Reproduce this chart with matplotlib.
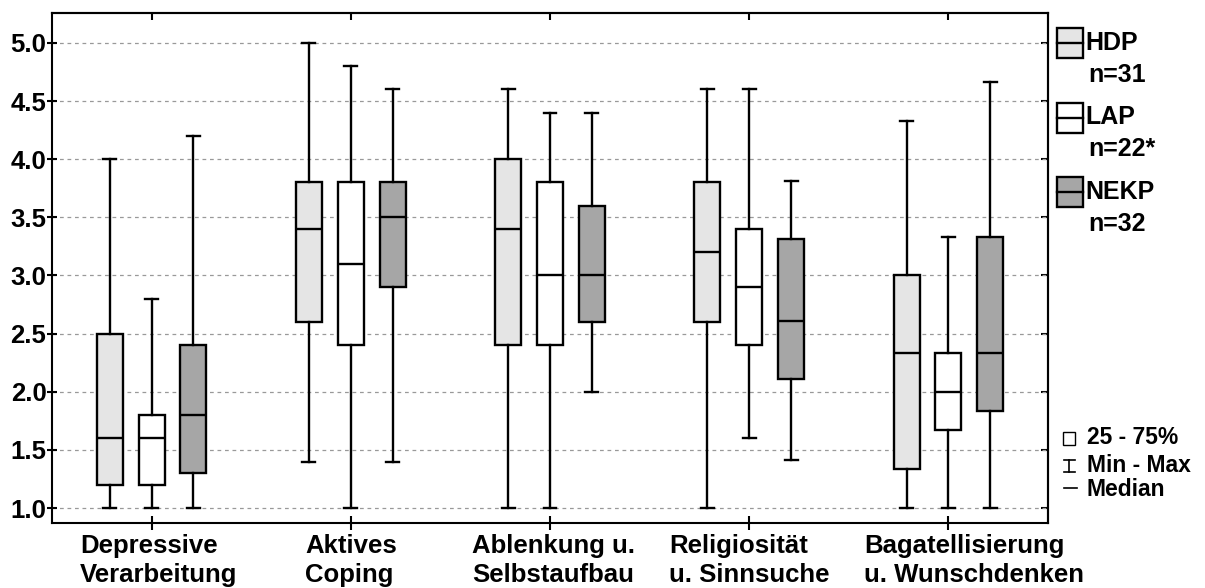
import numpy as np
import matplotlib.pyplot as plt
import matplotlib.transforms as mtransforms
from matplotlib.patches import Rectangle
from matplotlib.lines import Line2D

plt.rcParams['font.family'] = ['Liberation Sans', 'DejaVu Sans']
plt.rcParams['font.weight'] = 'bold'

categories = ["Depressive\nVerarbeitung", "Aktives\nCoping", "Ablenkung u.\nSelbstaufbau",
              "Religiosität\nu. Sinnsuche", "Bagatellisierung\nu. Wunschdenken"]
groups = ["HDP", "LAP", "NEKP"]
group_n = ["n=31", "n=22*", "n=32"]
colors = ["#e5e5e5", "#ffffff", "#a6a6a6"]

# min, q1, median, q3, max per category
hdp_min = [1.0, 1.4, 1.0, 1.0, 1.0]
hdp_q1 = [1.2, 2.6, 2.4, 2.6, 1.333]
hdp_med = [1.6, 3.4, 3.4, 3.2, 2.333]
hdp_q3 = [2.5, 3.8, 4.0, 3.8, 3.0]
hdp_max = [4.0, 5.0, 4.6, 4.6, 4.333]

lap_min = [1.0, 1.0, 1.0, 1.6, 1.0]
lap_q1 = [1.2, 2.4, 2.4, 2.4, 1.667]
lap_med = [1.6, 3.1, 3.0, 2.9, 2.0]
lap_q3 = [1.8, 3.8, 3.8, 3.4, 2.333]
lap_max = [2.8, 4.8, 4.4, 4.6, 3.333]

nekp_min = [1.0, 1.4, 2.0, 1.41, 1.0]
nekp_q1 = [1.3, 2.9, 2.6, 2.11, 1.833]
nekp_med = [1.8, 3.5, 3.0, 2.61, 2.333]
nekp_q3 = [2.4, 3.8, 3.6, 3.31, 3.333]
nekp_max = [4.2, 4.6, 4.4, 3.81, 4.667]

series = [
    (hdp_min, hdp_q1, hdp_med, hdp_q3, hdp_max),
    (lap_min, lap_q1, lap_med, lap_q3, lap_max),
    (nekp_min, nekp_q1, nekp_med, nekp_q3, nekp_max),
]

W, H = 1205, 588
fig = plt.figure(figsize=(W / 100, H / 100), dpi=100)
ax = fig.add_axes([52 / W, 1 - 523 / H, (1048 - 52) / W, (523 - 13) / H])

x = np.arange(1, len(categories) + 1)
offsets = [-0.21, 0.0, 0.21]
lw = 1.7

for k, (mn, q1, med, q3, mx) in enumerate(series):
    stats = [dict(whislo=mn[i], q1=q1[i], med=med[i], q3=q3[i], whishi=mx[i], fliers=[])
             for i in range(len(categories))]
    ax.bxp(stats, positions=x + offsets[k], widths=0.13, capwidths=0.065,
           patch_artist=True, showfliers=False, manage_ticks=False,
           boxprops=dict(facecolor=colors[k], edgecolor='black', linewidth=lw),
           medianprops=dict(color='black', linewidth=lw),
           whiskerprops=dict(color='black', linewidth=lw),
           capprops=dict(color='black', linewidth=lw), zorder=3)

ax.set_xlim(0.5, 5.5)
ax.set_ylim(0.871, 5.258)
yt = np.arange(1.0, 5.01, 0.5)
ax.set_yticks(yt)
ax.set_yticklabels([f"{v:.1f}" for v in yt])
ax.set_xticks(x)
ax.set_xticklabels(categories, multialignment='left', linespacing=1.28)
ax.grid(axis='y', color='#999999', linestyle=(0, (3, 3)), linewidth=0.9, zorder=0)
ax.set_axisbelow(True)

for s in ax.spines.values():
    s.set_linewidth(1.5)
ax.tick_params(axis='x', direction='inout', length=10, width=1.5, pad=3, labelsize=18.5)
ax.tick_params(axis='y', direction='inout', length=7, width=1.5, pad=0.5, labelsize=18.5)

sec_x = ax.secondary_xaxis('top')
sec_x.set_xticks(x)
sec_x.tick_params(direction='in', length=5, width=1.5, labeltop=False)
sec_y = ax.secondary_yaxis('right')
sec_y.set_yticks(yt)
sec_y.tick_params(direction='in', length=5, width=1.5, labelright=False)
for s in list(sec_x.spines.values()) + list(sec_y.spines.values()):
    s.set_linewidth(1.5)

# shift some labels to match the reference placement
label_shift = [7, 0, 4, 0, 26]
for lab, dx in zip(ax.get_xticklabels(), label_shift):
    lab.set_transform(lab.get_transform() + mtransforms.ScaledTranslation(dx / 100, 0, fig.dpi_scale_trans))


def fx(px):
    return px / W


def fy(py):
    return 1 - py / H


# group legend
for i, (name, n, c) in enumerate(zip(groups, group_n, colors)):
    top = 28 + i * 74.5
    fig.add_artist(Rectangle((fx(1057), fy(top + 30)), (1083 - 1057) / W, 30 / H,
                             facecolor=c, edgecolor='black', linewidth=1.7,
                             transform=fig.transFigure))
    fig.add_artist(Line2D([fx(1057), fx(1083)], [fy(top + 15)] * 2, color='black',
                          linewidth=1.7, transform=fig.transFigure))
    fig.text(fx(1085), fy(top + 15), name, fontsize=18, va='center', ha='left')
    fig.text(fx(1088), fy(top + 47), n, fontsize=18, va='center', ha='left')

# symbol legend
fig.add_artist(Rectangle((fx(1063), fy(445)), 12 / W, 13 / H, facecolor='white',
                         edgecolor='black', linewidth=1.0, transform=fig.transFigure))
fig.add_artist(Line2D([fx(1069), fx(1069)], [fy(460), fy(472)], color='black',
                      linewidth=1.2, transform=fig.transFigure))
for yy in (460, 472):
    fig.add_artist(Line2D([fx(1064), fx(1075)], [fy(yy)] * 2, color='black',
                          linewidth=1.2, transform=fig.transFigure))
fig.add_artist(Line2D([fx(1064), fx(1077)], [fy(488)] * 2, color='black',
                      linewidth=1.2, transform=fig.transFigure))
for yy, t in zip((438, 465, 489), ["25 - 75%", "Min - Max", "Median"]):
    fig.text(fx(1087), fy(yy), t, fontsize=16.5, va='center', ha='left')

fig.savefig("out.png", dpi=100)
